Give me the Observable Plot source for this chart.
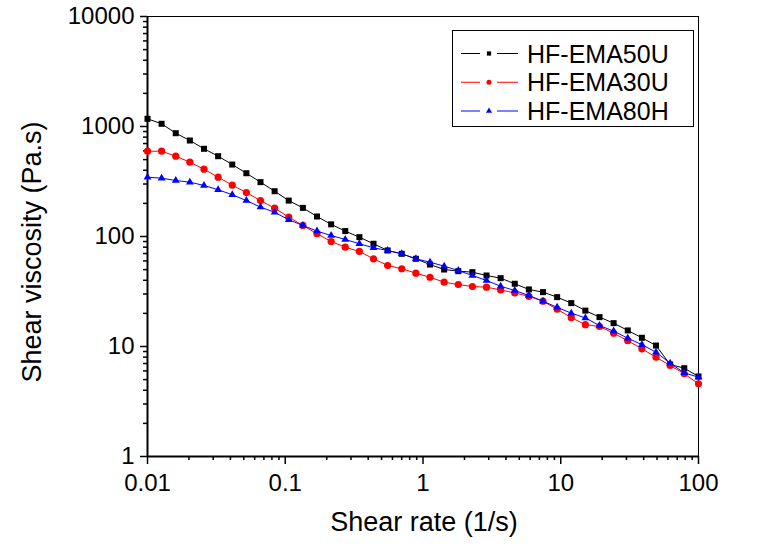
<!DOCTYPE html>
<html><head><meta charset="utf-8">
<script src="https://cdn.jsdelivr.net/npm/d3@7"></script>
<script src="https://cdn.jsdelivr.net/npm/@observablehq/plot@0.6"></script>
<style>
body{margin:0;background:#fff;}
#wrap{width:775px;height:546px;overflow:hidden;background:#fff;}
#wrap svg{max-width:none !important;}
</style></head><body><div id="wrap"></div>
<script>
// Shear rate (1/s)
const shearRate = [0.01, 0.01266, 0.01604, 0.0203, 0.02571, 0.03256, 0.04123, 0.05221, 0.06612, 0.08373,
  0.1060, 0.1343, 0.1700, 0.2153, 0.2726, 0.3453, 0.4372, 0.5536, 0.7011, 0.8878,
  1.124, 1.424, 1.803, 2.283, 2.891, 3.661, 4.635, 5.870, 7.433, 9.413,
  11.92, 15.09, 19.11, 24.20, 30.65, 38.81, 49.15, 62.24, 78.81, 100];
// Shear viscosity (Pa.s)
const ema50u = [1175,1058,869,746,627,537,451,376,312,258,212,182,152,129,112,98.6,85.9,74.6,69.6,62.7,
  55.6,50.1,48.4,47.4,44.2,41.8,37.2,33.0,31.2,28.1,24.8,21.2,18.5,16.3,14.0,12.0,10.2,6.86,6.35,5.34];
const ema30u = [596,596,537,474,409,346,293,251,212,181,150,126,106,90.1,79.9,73.1,62.7,54.5,50.9,46.4,
  42.6,38.4,36.6,35.1,34.6,32.7,30.7,28.6,25.8,21.8,18.3,15.8,15.2,13.2,11.3,9.53,7.99,6.72,5.65,4.58];
const ema80h = [346,339,323,312,291,266,240,212,185,166,142,126,112,102,94,85.9,78.9,74.6,69.6,62.7,
  58.4,53.7,49.1,44.2,39.8,35.3,32.3,29.1,25.8,22.7,20.1,18.2,15.5,13.8,11.9,10.4,8.87,7.05,5.76,5.26];

const seriesNames = ["HF-EMA50U", "HF-EMA30U", "HF-EMA80H"];
const seriesColors = ["#000000", "#ff0000", "#0000ff"];
const seriesSymbols = ["square", "circle", "triangle"];
const seriesValues = [ema50u, ema30u, ema80h];

const xMajor = [0.01, 0.1, 1, 10, 100];
const xLabels = ["0.01", "0.1", "1", "10", "100"];
const yMajor = [1, 10, 100, 1000, 10000];
const yLabels = ["1", "10", "100", "1000", "10000"];
const minorMult = [2, 3, 4, 5, 6, 7, 8, 9];
const xMinor = xMajor.slice(0, -1).flatMap(d => minorMult.map(m => d * m));
const yMinor = yMajor.slice(0, -1).flatMap(d => minorMult.map(m => d * m));

const xTitle = "Shear rate (1/s)";
const yTitle = "Shear viscosity (Pa.s)";

const FONT = "'Liberation Sans', Arial, sans-serif";

const dotR = {square: 3.4, circle: 3.6, triangle: 2.9};

const seriesMarks = seriesNames.flatMap((name, k) => {
  const rows = seriesValues[k].map((v, i) => ({x: shearRate[i], y: v}));
  return [
    Plot.line(rows, {x: "x", y: "y", stroke: seriesColors[k], strokeWidth: 1}),
    Plot.dot(rows, {x: "x", y: "y", fill: seriesColors[k], stroke: "none",
      symbol: seriesSymbols[k], r: dotR[seriesSymbols[k]]})
  ];
});

const chart = Plot.plot({
  width: 775, height: 546,
  marginLeft: 147, marginRight: 77, marginTop: 16, marginBottom: 90,
  style: {fontFamily: FONT, fontSize: "24px", color: "#000", background: "#fff", maxWidth: "none"},
  x: {type: "log", domain: [0.01, 100]},
  y: {type: "log", domain: [1, 10000]},
  marks: [
    Plot.axisX({ticks: xMajor, tickSize: 8, tickPadding: 9, strokeWidth: 1.5,
      tickFormat: d => xLabels[xMajor.indexOf(d)], label: null, fontSize: 24}),
    Plot.axisX({ticks: xMinor, tickSize: 4, strokeWidth: 1.5, tickFormat: () => "", label: null}),
    Plot.axisY({ticks: yMajor, tickSize: 7, tickPadding: 6, strokeWidth: 1.5,
      tickFormat: d => yLabels[yMajor.indexOf(d)], label: null, fontSize: 24}),
    Plot.axisY({ticks: yMinor, tickSize: 4, strokeWidth: 1.5, tickFormat: () => "", label: null}),
    Plot.frame({stroke: "#000", strokeWidth: 1}),
    Plot.ruleX([0.01], {stroke: "#000", strokeWidth: 2}),
    Plot.ruleY([1], {stroke: "#000", strokeWidth: 2}),
    ...seriesMarks
  ]
});
chart.style.maxWidth = "none";

const svg = d3.select(chart);
// axis titles
svg.append("text").attr("x", 424).attr("y", 531).attr("text-anchor", "middle")
  .attr("font-family", FONT).attr("font-size", 27).attr("fill", "#000").text(xTitle);
svg.append("text").attr("transform", "translate(41,252) rotate(-90)").attr("text-anchor", "middle")
  .attr("font-family", FONT).attr("font-size", 27).attr("fill", "#000").text(yTitle);

// legend
const lg = svg.append("g");
lg.append("rect").attr("x", 452.5).attr("y", 30.5).attr("width", 241).attr("height", 96)
  .attr("fill", "#fff").attr("stroke", "#000").attr("stroke-width", 1);
const legSym = {square: d3.symbolSquare, circle: d3.symbolCircle, triangle: d3.symbolTriangle};
const legSize = {square: 18, circle: 20, triangle: 16};
seriesNames.forEach((name, k) => {
  const cy = 53.5 + 28.75 * k;
  const g = lg.append("g");
  g.append("line").attr("x1", 461).attr("x2", 480).attr("y1", cy).attr("y2", cy)
    .attr("stroke", seriesColors[k]).attr("stroke-width", 1);
  g.append("line").attr("x1", 497).attr("x2", 518).attr("y1", cy).attr("y2", cy)
    .attr("stroke", seriesColors[k]).attr("stroke-width", 1);
  g.append("path").attr("transform", `translate(489,${cy})`)
    .attr("d", d3.symbol(legSym[seriesSymbols[k]], legSize[seriesSymbols[k]])())
    .attr("fill", seriesColors[k]);
  g.append("text").attr("x", 527).attr("y", cy + 9).attr("text-anchor", "start")
    .attr("font-family", FONT).attr("font-size", 25).attr("fill", "#000").text(name);
});

document.getElementById("wrap").appendChild(chart);
</script>
</body></html>
